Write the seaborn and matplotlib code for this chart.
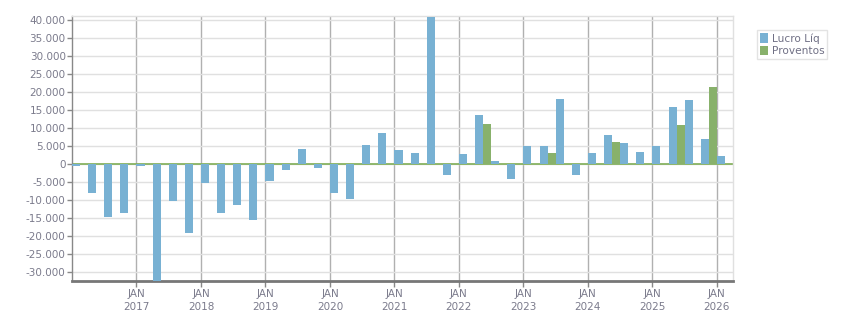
import numpy as np
import pandas as pd
import matplotlib
matplotlib.use("Agg")
import matplotlib.pyplot as plt
import seaborn as sns

# quarterly values, 1T2016 .. 1T2026
quarters = [f"{q}T{y}" for y in range(2016, 2026) for q in range(1, 5)] + ["1T2026"]

lucro = [-500, -8000, -14800, -13600,
         -700, -36000, -10200, -19100,
         -5200, -13800, -11400, -15600,
         -4700, -1600, 4200, -1000,
         -8000, -9900, 5300, 8600,
         3900, 3100, 41000, -3200,
         2800, 13600, 800, -4100,
         5000, 5000, 18100, -3200,
         3100, 8100, 5800, 3300,
         5000, 15900, 17800, 7000,
         2200]

proventos = [0, 0, 0, 0,
             0, 0, 0, 0,
             0, 0, 0, 0,
             0, 0, 0, 0,
             0, 0, 0, 0,
             0, 0, 0, 0,
             0, 11100, 0, 0,
             0, 3100, 0, 0,
             0, 6100, 0, 0,
             0, 10900, 0, 21400,
             0]

years = list(range(2017, 2027))
year_labels = [f"JAN\n{y}" for y in years]

df = pd.DataFrame({
    "trimestre": quarters * 2,
    "serie": ["Lucro Líq"] * len(quarters) + ["Proventos"] * len(quarters),
    "valor": lucro + proventos,
})

blue = "#78b1d3"
green = "#88b16b"
txt = "#7b7b8c"

fig = plt.figure(figsize=(8.51, 3.13), dpi=100)
ax = fig.add_axes([72 / 851, 1 - 281 / 313, 661 / 851, 265 / 313])

sns.barplot(data=df, x="trimestre", y="valor", hue="serie",
            palette=[blue, green], saturation=1, width=1.0,
            errorbar=None, ax=ax, zorder=3)

ax.axhline(0, color="#7fae57", lw=1.2, zorder=2.5)

ax.set_xlim(-0.5, len(quarters) - 0.5)
ax.set_ylim(-32600, 41200)

ticks_y = np.arange(-30000, 40001, 5000)
ax.set_yticks(ticks_y)
ax.set_yticklabels([f"{v:,}".replace(",", ".") for v in ticks_y])

ax.set_xticks([4 * (i + 1) - 0.5 for i in range(len(years))])
ax.set_xticklabels(year_labels)

ax.set_xlabel("")
ax.set_ylabel("")
ax.set_facecolor("white")

ax.grid(axis="y", color="#e0e0e0", lw=1, zorder=0)
ax.grid(axis="x", color="#b0b0b0", lw=1, zorder=0)
ax.set_axisbelow(True)

for s in ["top", "right"]:
    ax.spines[s].set_color("#e0e0e0")
    ax.spines[s].set_linewidth(1)
ax.spines["left"].set_color("#888888")
ax.spines["left"].set_linewidth(1)
ax.spines["bottom"].set_color("#777777")
ax.spines["bottom"].set_linewidth(2)

ax.tick_params(axis="y", labelsize=7.5, labelcolor=txt, color="#888888",
               length=3.5, width=1, pad=1)
ax.tick_params(axis="x", labelsize=7.5, labelcolor=txt, color="#888888",
               length=4, width=1, pad=2)
for lab in ax.get_xticklabels():
    lab.set_linespacing(1.3)

sns.move_legend(ax, "upper left", bbox_to_anchor=(1.036, 0.947), title=None,
                frameon=True, fontsize=7.6, handlelength=0.8, handleheight=1.0,
                handletextpad=0.3, borderpad=0.3, labelspacing=0.2,
                borderaxespad=0, fancybox=False)
leg = ax.get_legend()
leg.get_frame().set_edgecolor("#dddddd")
leg.get_frame().set_linewidth(1)
for t in leg.get_texts():
    t.set_color("#707085")

fig.savefig("out.png", dpi=100)
